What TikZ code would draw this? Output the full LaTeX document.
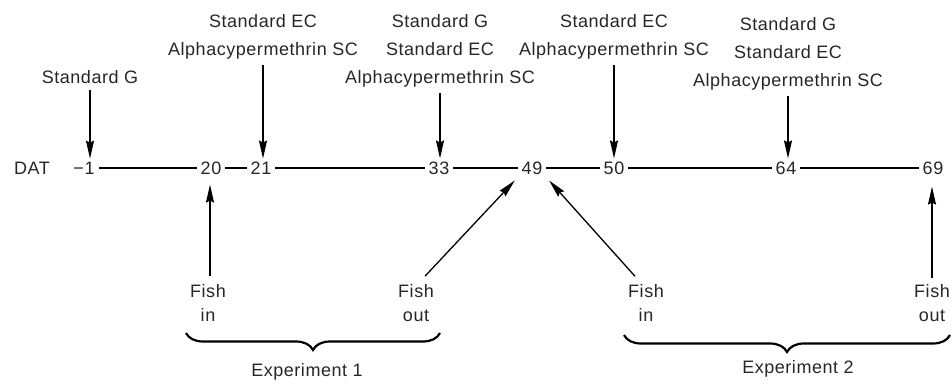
\documentclass[tikz,border=0pt]{standalone}
\usepackage{fontspec}
\setmainfont{Liberation Sans}[LetterSpace=3]
\usetikzlibrary{arrows.meta,decorations.pathreplacing}
\begin{document}
\begin{tikzpicture}[x=1pt,y=-1pt,
  every node/.style={font=\fontsize{18}{28}\selectfont, text=black!85},
  num/.style={inner xsep=4pt, inner ysep=3pt},
  lbl/.style={align=center, inner sep=0pt},
  fish/.style={align=center, inner sep=2pt, font=\fontsize{18}{24}\selectfont},
  arr/.style={line width=1.3pt, -{Stealth[length=18pt,width=8pt,inset=2pt]}},
  tl/.style={line width=1.3pt},
  brc/.style={line width=2.2pt, decorate, decoration={brace, mirror, amplitude=17pt}}]
\useasboundingbox (0,0) rectangle (952,383);
% axis labels and numbers
\node (dat) at (32,168) {DAT};
\node[num] (n1)  at (84,168) {−1};
\node[num] (n20) at (211,168) {20};
\node[num] (n21) at (261,168) {21};
\node[num] (n33) at (439,168) {33};
\node[num] (n49) at (532,168) {49};
\node[num] (n50) at (614,168) {50};
\node[num] (n64) at (786,168) {64};
\node[num] (n69) at (933,168) {69};
\draw[tl] (n1) -- (n20);
\draw[tl] (n20) -- (n21);
\draw[tl] (n21) -- (n33);
\draw[tl] (n33) -- (n49);
\draw[tl] (n49) -- (n50);
\draw[tl] (n50) -- (n64);
\draw[tl] (n64) -- (n69);
% treatments
\node[lbl] (t1)  at (90,77) {Standard G};
\node[lbl] (t21) at (263,37) {Standard EC\\Alphacypermethrin SC};
\node[lbl] (t33) at (440,51) {Standard G\\Standard EC\\Alphacypermethrin SC};
\node[lbl] (t50) at (614,37) {Standard EC\\Alphacypermethrin SC};
\node[lbl] (t64) at (788,54) {Standard G\\Standard EC\\Alphacypermethrin SC};
\draw[arr] ([yshift=-6pt]t1.south) -- (t1.south |- n1.north);
\draw[arr] ([yshift=-5pt]t21.south) -- (t21.south |- n21.north);
\draw[arr] ([yshift=-5pt]t33.south) -- (t33.south |- n33.north);
\draw[arr] ([yshift=-5pt]t50.south) -- (t50.south |- n50.north);
\draw[arr] ([yshift=-5pt]t64.south) -- (t64.south |- n64.north);
% fish
\node[fish] (fi1) at (208,303) {Fish\\in};
\node[fish] (fo1) at (416,303) {Fish\\out};
\node[fish] (fi2) at (646,303) {Fish\\in};
\node[fish] (fo2) at (932,303) {Fish\\out};
\draw[arr, shorten >=7pt] ([xshift=2pt,yshift=6pt]fi1.north) -- ([xshift=2pt]fi1.north |- n20.south);
\draw[arr, shorten >=4pt] ([xshift=9pt,yshift=6pt]fo1.north) -- (n49.south west);
\draw[arr, shorten >=4pt] ([xshift=-11pt,yshift=6pt]fi2.north) -- (n49.south east);
\draw[arr, shorten >=9pt] ([yshift=4pt]fo2.north) -- (fo2.north |- n69.south);
% experiments
\draw[brc] (186,333) -- (440,333);
\draw[brc] (624,335) -- (950,335);
\node (e1) at (307,372) {Experiment 1};
\node (e2) at (798,369) {Experiment 2};
\end{tikzpicture}
\end{document}
